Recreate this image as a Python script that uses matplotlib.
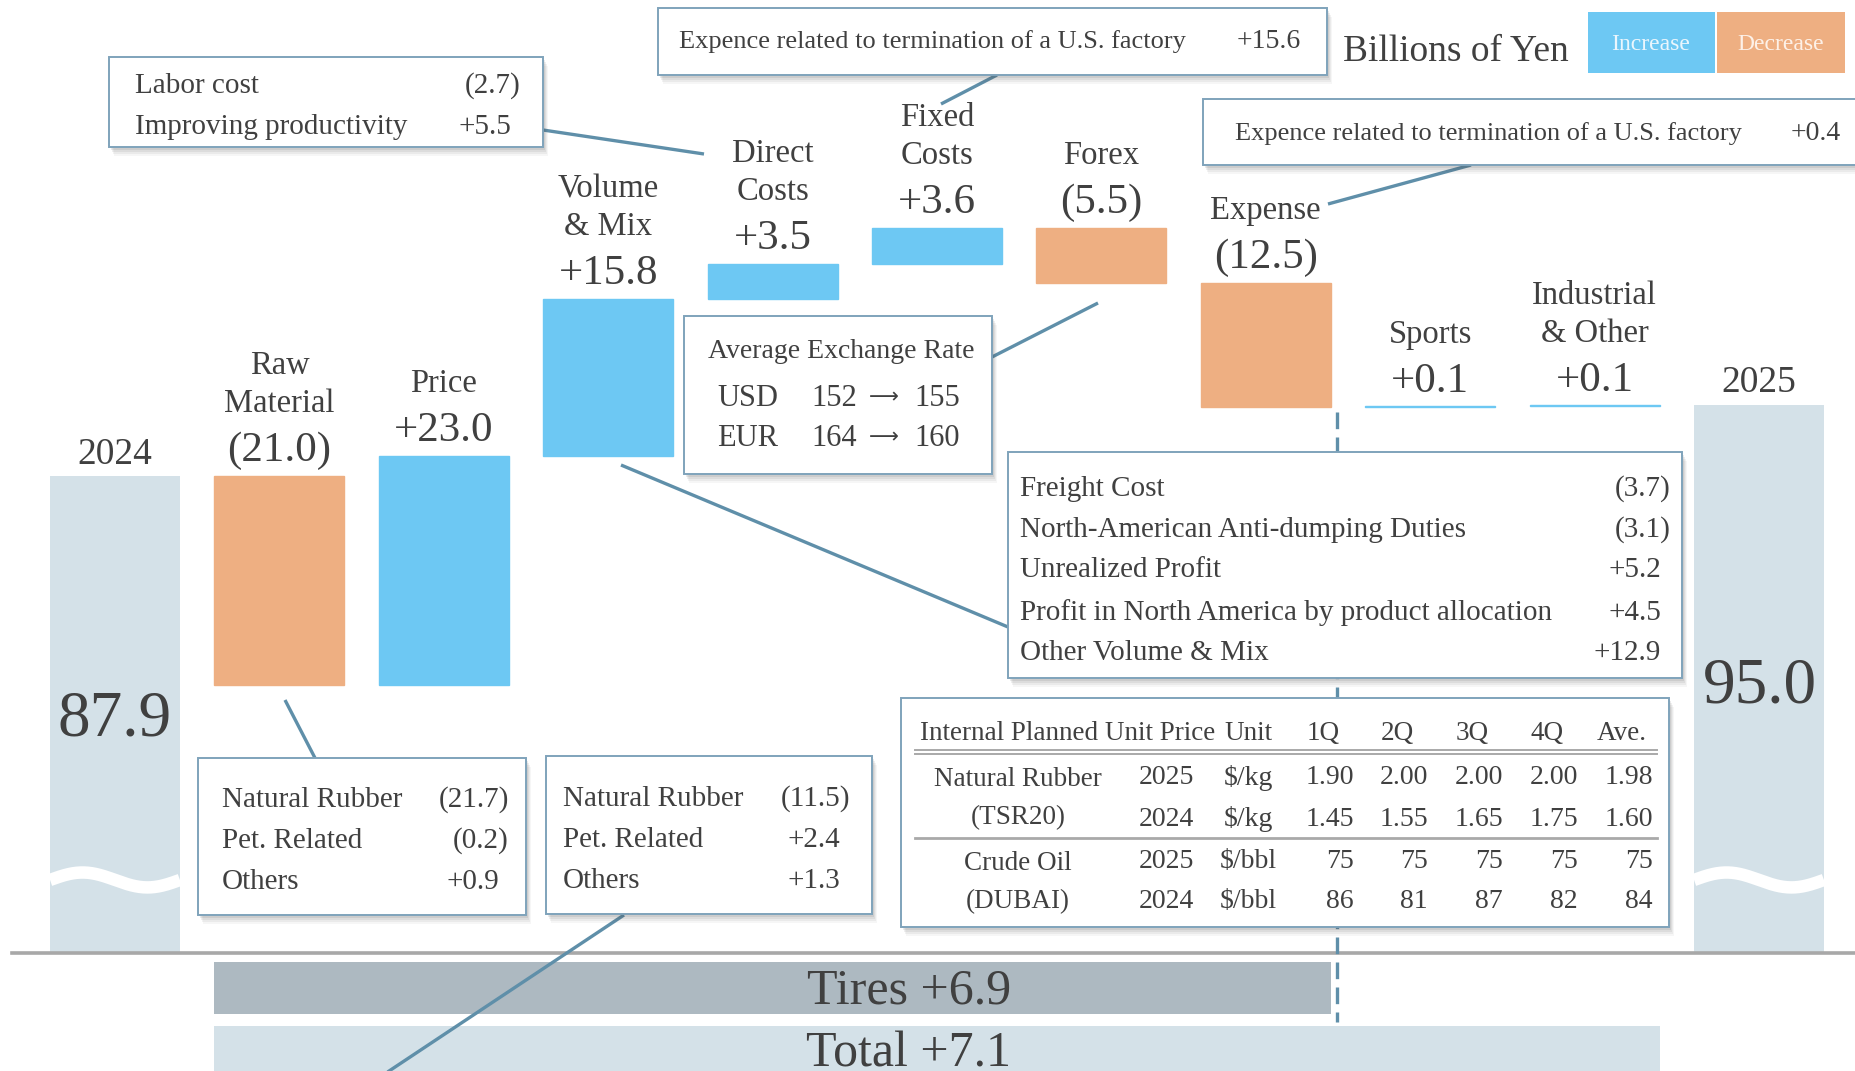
import matplotlib
matplotlib.use('Agg')
import matplotlib.pyplot as plt
from matplotlib.patches import Rectangle
import numpy as np

W, H, DPI = 1856, 1071, 100

# ---------------- data ----------------
categories = ['2024', 'Raw\nMaterial', 'Price', 'Volume\n& Mix', 'Direct\nCosts',
              'Fixed\nCosts', 'Forex', 'Expense', 'Sports', 'Industrial\n& Other', '2025']
start_value = 87.9
changes = [-21.0, 23.0, 15.8, 3.5, 3.6, -5.5, -12.5, 0.1, 0.1]
end_value = 95.0
floor_value = 40.0
break_value = 47.3
tires_change = 6.9
total_change = 7.1

direct_items = ['Labor cost', 'Improving productivity']
direct_vals = [-2.7, 5.5]
fixed_note = 'Expence related to termination of a U.S. factory'
fixed_note_val = 15.6
expense_note = 'Expence related to termination of a U.S. factory'
expense_note_val = 0.4
fx_currencies = ['USD', 'EUR']
fx_prev = [152, 164]
fx_curr = [155, 160]
volume_items = ['Freight Cost', 'North-American Anti-dumping Duties', 'Unrealized Profit',
                'Profit in North America by product allocation', 'Other Volume & Mix']
volume_vals = [-3.7, -3.1, 5.2, 4.5, 12.9]
raw_items = ['Natural Rubber', 'Pet. Related', 'Others']
raw_vals = [-21.7, -0.2, 0.9]
price_items = ['Natural Rubber', 'Pet. Related', 'Others']
price_vals = [-11.5, 2.4, 1.3]

table_cols = ['1Q', '2Q', '3Q', '4Q', 'Ave.']
rubber_2025 = ['1.90', '2.00', '2.00', '2.00', '1.98']
rubber_2024 = ['1.45', '1.55', '1.65', '1.75', '1.60']
oil_2025 = ['75', '75', '75', '75', '75']
oil_2024 = ['86', '81', '87', '82', '84']

# ---------------- style ----------------
plt.rcParams['font.family'] = ['Liberation Serif', 'DejaVu Serif']
TXT = '#404040'
INC = '#6dc8f3'
DEC = '#eeaf82'
ENDC = '#d4e1e8'
TIRES = '#adb9c1'
LINE = '#5f8fa9'
EDGE = '#7fa3bb'
BW = 0.79


def fmt(v):
    return f'+{v:.1f}' if v > 0 else f'({abs(v):.1f})'


def pt(px):
    return px * 72 / DPI


fig = plt.figure(figsize=(W / DPI, H / DPI), dpi=DPI)
ax = fig.add_axes([0, 0, 1, 1])
ax.set_xlim(-0.6995, 10.590)
ax.set_ylim(28.10, 135.74)
ax.axis('off')

ov = fig.add_axes([0, 0, 1, 1], zorder=3)
ov.set_xlim(0, W)
ov.set_ylim(H, 0)
ov.axis('off')
ov.patch.set_alpha(0)

# ---------------- waterfall ----------------
n = len(categories)
ax.bar(0, start_value - floor_value, bottom=floor_value, width=BW, color=ENDC, zorder=2)
ax.bar(n - 1, end_value - floor_value, bottom=floor_value, width=BW, color=ENDC, zorder=2)

level = start_value
tops = []
for i, ch in enumerate(changes, start=1):
    bottom = level if ch > 0 else level + ch
    col = INC if ch > 0 else DEC
    ax.bar(i, abs(ch), bottom=bottom, width=BW, color=col, edgecolor=col,
           linewidth=1.0, zorder=2)
    tops.append(max(level, level + ch))
    level += ch

# labels above the change bars
for i, (name, top, ch) in enumerate(zip(categories[1:-1], tops, changes), start=1):
    ax.annotate(fmt(ch), (i, top), xytext=(0, pt(25)), textcoords='offset points',
                ha='center', va='center', fontsize=31, color=TXT)
    for j, line in enumerate(reversed(name.split('\n'))):
        ax.annotate(line, (i, top), xytext=(0, pt(72 + 38 * j)), textcoords='offset points',
                    ha='center', va='center', fontsize=23.5, color=TXT)

# year labels
ax.annotate(categories[0], (0, start_value), xytext=(0, pt(21)), textcoords='offset points',
            ha='center', va='center', fontsize=27, color=TXT)
ax.annotate(categories[-1], (n - 1, end_value), xytext=(0, pt(23)), textcoords='offset points',
            ha='center', va='center', fontsize=27, color=TXT)

# broken-axis wave on the two total bars
t = np.linspace(0, 1, 200)
for i in (0, n - 1):
    xs = i - BW / 2 + BW * t
    ys = break_value + 0.75 * np.sin(2 * np.pi * t)
    ax.plot(xs, ys, color='white', lw=9, solid_capstyle='butt', zorder=3)

ov.text(115, 720, f'{start_value:.1f}', ha='center', va='center', fontsize=47, color=TXT, zorder=6)
ov.text(1760, 687, f'{end_value:.1f}', ha='center', va='center', fontsize=47, color=TXT, zorder=6)

# baseline
ax.plot([-0.6995 + 12 / 164.4, 10.590], [floor_value, floor_value], color='#a8a8a8', lw=2.6, zorder=4)

# segment totals
ax.barh(36.45, (7 + BW / 2) - (1 - BW / 2), left=1 - BW / 2, height=5.2, color=TIRES, zorder=2)
ax.barh(30.2, (9 + BW / 2) - (1 - BW / 2), left=1 - BW / 2, height=4.9, color=ENDC, zorder=2)
ov.text(909, 991, f'Tires +{tires_change}', ha='center', va='center', fontsize=36, color=TXT, zorder=6)
ov.text(909, 1054, f'Total +{total_change}', ha='center', va='center', fontsize=36, color=TXT, zorder=6)


# ---------------- callout panels ----------------
def panel(x0, y0, x1, y1):
    for k, a in [(9, 0.05), (7, 0.07), (5, 0.09), (3, 0.11)]:
        ov.add_patch(Rectangle((x0 + k * 0.6, y0 + k), x1 - x0, y1 - y0, fc='#505050',
                               ec='none', alpha=a, zorder=4))
    ov.add_patch(Rectangle((x0, y0), x1 - x0, y1 - y0, fc='white', ec=EDGE, lw=1.4, zorder=5))


def txt(x, y, s, ha='left', size=21, **kw):
    ov.text(x, y + 2, s, ha=ha, va='center', fontsize=size, color=TXT, zorder=6, **kw)


def link(p, q):
    ov.plot([p[0], q[0]], [p[1], q[1]], color=LINE, lw=2.4, zorder=3.5, solid_capstyle='butt')


def items(x_left, x_right, ys, names, vals, size=21):
    for y, nm, v in zip(ys, names, vals):
        txt(x_left, y, nm, size=size)
        txt(x_right if v < 0 else x_right - 10, y, fmt(v), ha='right', size=size)


# dashed guide from the Expense bar
ov.plot([1337, 1337], [412, 1022], color=LINE, lw=2.4, ls=(0, (5, 2.5)), zorder=3.4)

# connectors
link((543, 130), (704, 154))
link((997, 75), (941, 104))
link((1471, 165), (1328, 204))
link((992, 357), (1098, 303))
link((621, 465), (1008, 627))
link((285, 700), (315, 758))
link((624, 915), (368, 1085))

# direct costs
panel(109, 57, 543, 147)
items(135, 521, [84, 125], direct_items, direct_vals)

# fixed costs note
panel(658, 8, 1327, 75)
txt(679, 40, fixed_note, size=19)
txt(1301, 40, fmt(fixed_note_val), ha='right', size=20)

# expense note
panel(1203, 99, 1875, 165)
txt(1235, 132, expense_note, size=19)
txt(1841, 132, fmt(expense_note_val), ha='right', size=20)

# exchange rates
panel(684, 316, 992, 474)
txt(708, 350, 'Average Exchange Rate', size=20)
for y, cur, a, b in zip([397, 437], fx_currencies, fx_prev, fx_curr):
    txt(717, y, cur, size=22)
    txt(811, y, str(a), size=22)
    txt(884, y - 2, '\u27f6', ha='center', size=15, family='DejaVu Sans')
    txt(914, y, str(b), size=22)

# volume & mix breakdown
panel(1008, 452, 1682, 678)
items(1020, 1671, [487, 528, 568, 611, 651], volume_items, volume_vals)

# raw material and price breakdowns
panel(198, 758, 526, 915)
items(222, 509, [798, 839, 880], raw_items, raw_vals)
panel(546, 756, 872, 914)
items(563, 850, [797, 838, 879], price_items, price_vals)

# unit price table
panel(901, 698, 1669, 927)
TS = 19.5
R = [1354, 1428, 1503, 1578, 1653]
txt(920, 731, 'Internal Planned Unit Price', size=TS)
txt(1248, 731, 'Unit', ha='center', size=TS)
for r, c in zip(R, table_cols):
    txt(r - 31, 731, c, ha='center', size=TS)
for yy in (750, 754):
    ov.plot([915, 1657], [yy, yy], color='#a9a9a9', lw=1.4, zorder=6)
ov.plot([915, 1657], [838, 838], color='#a9a9a9', lw=2.0, zorder=6)
txt(1018, 778, 'Natural Rubber', ha='center', size=TS)
txt(1018, 816, '(TSR20)', ha='center', size=TS)
txt(1018, 862, 'Crude Oil', ha='center', size=TS)
txt(1018, 900, '(DUBAI)', ha='center', size=TS)
rows = [(776, '2025', '$/kg', rubber_2025), (817, '2024', '$/kg', rubber_2024),
        (859, '2025', '$/bbl', oil_2025), (900, '2024', '$/bbl', oil_2024)]
for y, yr, unit, vals in rows:
    txt(1166, y, yr, ha='center', size=20)
    txt(1248, y, unit, ha='center', size=20)
    for r, v in zip(R, vals):
        txt(r, y, v, ha='right', size=20)

# ---------------- legend ----------------
txt(1456, 50, 'Billions of Yen', ha='center', size=27)
ov.add_patch(Rectangle((1588, 12), 127, 61, fc=INC, ec='none', zorder=5))
ov.add_patch(Rectangle((1717, 12), 128, 61, fc=DEC, ec='none', zorder=5))
ov.text(1651, 45, 'Increase', ha='center', va='center', fontsize=17, color='#eaf6fd', zorder=6)
ov.text(1781, 45, 'Decrease', ha='center', va='center', fontsize=17, color='#fdf1e8', zorder=6)

fig.savefig('out.png', dpi=DPI)
